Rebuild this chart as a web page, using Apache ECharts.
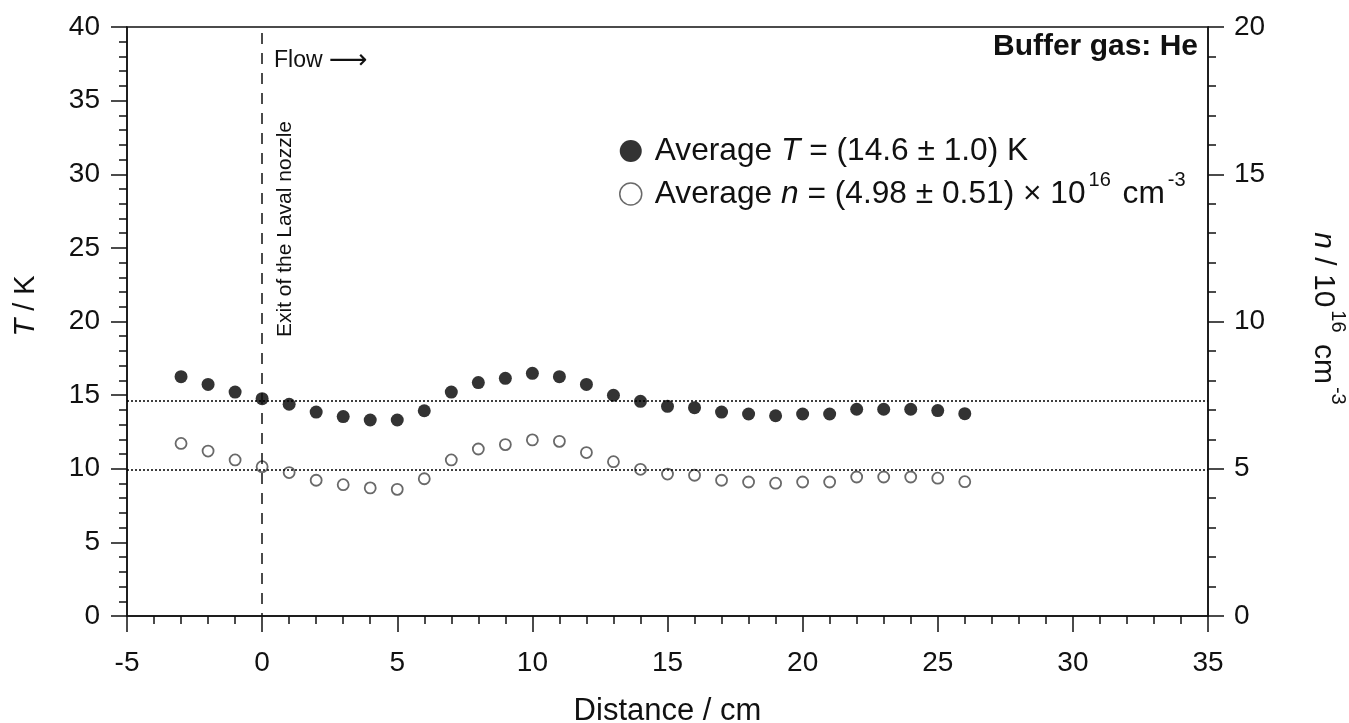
<!DOCTYPE html>
<html>
<head>
<meta charset="utf-8">
<title>Buffer gas: He</title>
<script src="https://cdn.jsdelivr.net/npm/echarts@6/dist/echarts.min.js"></script>
<style>
  html, body { margin: 0; padding: 0; background: #fff; }
  #chart { width: 1349px; height: 723px; }
</style>
</head>
<body>
<div id="chart"></div>
<script>
// Distance from the nozzle exit (cm)
const distance = [-3, -2, -1, 0, 1, 2, 3, 4, 5, 6, 7, 8, 9, 10, 11, 12, 13, 14, 15, 16, 17, 18, 19, 20, 21, 22, 23, 24, 25, 26];
// Temperature T (K)
const temperature = [16.25, 15.73, 15.21, 14.76, 14.38, 13.85, 13.54, 13.31, 13.31, 13.94, 15.21, 15.85, 16.14, 16.48,
                     16.25, 15.73, 14.99, 14.58, 14.24, 14.15, 13.85, 13.72, 13.60, 13.72, 13.72, 14.04, 14.04, 14.04, 13.95, 13.74];
// Number density n (10^16 cm^-3)
const density = [5.86, 5.60, 5.30, 5.07, 4.87, 4.61, 4.46, 4.35, 4.30, 4.66, 5.30, 5.67, 5.82, 5.98,
                 5.93, 5.55, 5.24, 4.98, 4.82, 4.78, 4.61, 4.55, 4.51, 4.55, 4.55, 4.72, 4.72, 4.72, 4.68, 4.56];
// Averages shown in the legend and as dotted lines
const avgT = 14.6;
const avgN = 4.98;
// Axis ranges
const xRange = [-5, 35];
const tRange = [0, 40];
const nRange = [0, 20];

const FONT = "'Liberation Sans', Arial, sans-serif";
const INK = '#111';

const chart = echarts.init(document.getElementById('chart'));

// Rich-text styles: main text sits in a tall line, superscripts hug the top of it
function supStyles(mainSize, supSize, lineH) {
  return {
    b: { fontSize: mainSize, fontFamily: FONT, color: INK, fill: INK, lineHeight: lineH },
    i: { fontSize: mainSize, fontFamily: FONT, color: INK, fill: INK, fontStyle: 'italic', lineHeight: lineH },
    s: { fontSize: supSize, fontFamily: FONT, color: INK, fill: INK, verticalAlign: 'top', lineHeight: supSize, padding: [0, 3, 0, 3] }
  };
}

function axisCommon(min, max) {
  return {
    min: min, max: max, interval: 5,
    axisLine: { show: true, onZero: false, lineStyle: { color: INK, width: 1.5 } },
    axisTick: { show: true, length: 16, lineStyle: { color: INK, width: 1.5 } },
    minorTick: { show: true, splitNumber: 5, length: 8, lineStyle: { color: INK, width: 1.5 } },
    splitLine: { show: false }
  };
}

const option = {
  backgroundColor: '#fff',
  animation: false,
  grid: {
    left: 127, right: 141, top: 27, bottom: 107,
    outerBoundsMode: 'none',
    containLabel: false,
    show: true, borderColor: INK, borderWidth: 1.5, backgroundColor: 'transparent'
  },
  legend: {
    orient: 'vertical',
    left: 614, top: 130,
    itemWidth: 22, itemHeight: 22, itemGap: 3,
    selectedMode: false,
    data: [
      { name: 'T', icon: 'circle', itemStyle: { color: '#000', borderWidth: 0 } },
      { name: 'n', icon: 'circle', itemStyle: { color: '#fff', borderColor: '#444', borderWidth: 1.5 } }
    ],
    formatter: function (name) {
      if (name === 'T') return '{b|Average }{i|T}{b| = (14.6 ± 1.0) K}';
      return '{b|Average }{i|n}{b| = (4.98 ± 0.51) × 10}{s|16}{b| cm}{s|-3}';
    },
    textStyle: { rich: supStyles(31.7, 20, 48), padding: [0, 0, 0, 8] }
  },
  xAxis: Object.assign(axisCommon(xRange[0], xRange[1]), {
    type: 'value',
    name: 'Distance / cm',
    nameLocation: 'middle',
    nameGap: 80,
    nameTextStyle: { fontSize: 31, fontFamily: FONT, color: INK },
    axisLabel: { fontSize: 28, fontFamily: FONT, color: INK, margin: 33 }
  }),
  yAxis: [
    Object.assign(axisCommon(tRange[0], tRange[1]), {
      type: 'value', position: 'left',
      axisLabel: { fontSize: 28, fontFamily: FONT, color: INK, margin: 27 }
    }),
    Object.assign(axisCommon(nRange[0], nRange[1]), {
      type: 'value', position: 'right',
      axisLabel: { fontSize: 28, fontFamily: FONT, color: INK, margin: 26 }
    })
  ],
  series: [
    {
      name: 'T',
      type: 'scatter',
      yAxisIndex: 0,
      symbol: 'circle',
      symbolSize: 13,
      itemStyle: { color: '#000' },
      data: distance.map((d, i) => [d, temperature[i]]),
      markLine: {
        silent: true, symbol: 'none', label: { show: false },
        data: [
          { yAxis: avgT, lineStyle: { color: '#000', width: 1.5, type: [2, 2] } },
          [
            { coord: [0, 39.6], lineStyle: { color: INK, width: 1.5, type: [11, 9] } },
            { coord: [0, 0] }
          ]
        ]
      },
      z: 3
    },
    {
      name: 'n',
      type: 'scatter',
      yAxisIndex: 1,
      symbol: 'circle',
      symbolSize: 11,
      itemStyle: { color: '#fff', borderColor: '#444', borderWidth: 1.8 },
      data: distance.map((d, i) => [d, density[i]]),
      markLine: {
        silent: true, symbol: 'none', label: { show: false },
        lineStyle: { color: '#000', width: 1.5, type: [2, 2] },
        data: [{ yAxis: avgN }]
      },
      z: 3
    }
  ],
  graphic: [
    {
      type: 'text', x: 1198, y: 47,
      style: { text: 'Buffer gas: He', fontSize: 30, fontWeight: 'bold', fontFamily: FONT, fill: INK, align: 'right', verticalAlign: 'middle' }
    },
    {
      type: 'text', x: 274, y: 61,
      style: {
        text: '{f|Flow }{a|\u27F6}', verticalAlign: 'middle',
        rich: {
          f: { fontSize: 23, fontFamily: FONT, fill: INK },
          a: { fontSize: 27, fontFamily: "'DejaVu Sans', sans-serif", fill: INK }
        }
      }
    },
    {
      type: 'text', x: 285, y: 229, rotation: Math.PI / 2,
      style: { text: 'Exit of the Laval nozzle', fontSize: 21, fontFamily: FONT, fill: INK, align: 'center', verticalAlign: 'middle' }
    },
    {
      type: 'text', x: 26, y: 306, rotation: Math.PI / 2,
      style: {
        text: '{i|T}{b| / K}', align: 'center', verticalAlign: 'middle',
        rich: {
          i: { fontSize: 29, fontFamily: FONT, fill: INK, fontStyle: 'italic' },
          b: { fontSize: 29, fontFamily: FONT, fill: INK }
        }
      }
    },
    {
      type: 'text', x: 1323, y: 320, rotation: -Math.PI / 2,
      style: {
        text: '{i|n}{b| / 10}{s|16}{b| cm}{s|-3}', align: 'center', verticalAlign: 'middle',
        rich: supStyles(30, 20, 50)
      }
    }
  ]
};

chart.setOption(option);
</script>
</body>
</html>
